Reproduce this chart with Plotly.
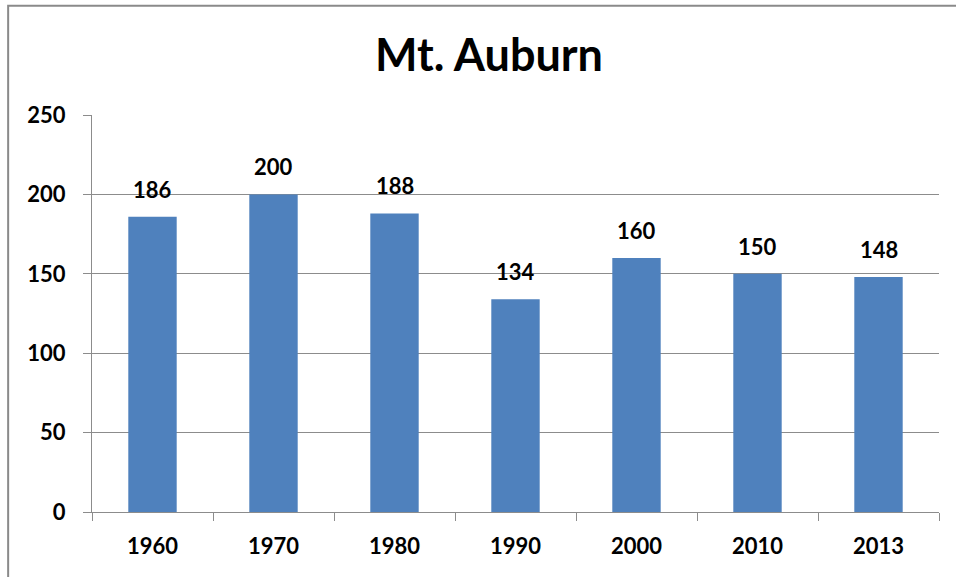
import plotly.graph_objects as go

years = ["1960", "1970", "1980", "1990", "2000", "2010", "2013"]
counts = [186, 200, 188, 134, 160, 150, 148]
y_ticks = [0, 50, 100, 150, 200, 250]

FONT = "Lato, 'Open Sans', sans-serif"
GRID = "#8c8c8c"

fig = go.Figure(
    data=go.Bar(
        x=years,
        y=counts,
        marker_color="#4F81BD",
        marker_line_width=0,
        width=0.4,
    )
)

# etiquetas encima de las barras, al estilo Excel (x = índice de categoría)
for i, value in enumerate(counts):
    fig.add_annotation(
        x=i,
        y=value,
        text=f"<b>{value}</b>",
        showarrow=False,
        yanchor="bottom",
        yshift=12,
        font=dict(family=FONT, size=22, color="black"),
    )

# marco exterior del gráfico
fig.add_shape(
    type="rect",
    xref="paper",
    yref="paper",
    x0=-0.099,
    x1=1.2,
    y0=-0.4,
    y1=1.275,
    line=dict(color="#8a8a8a", width=2),
    fillcolor="rgba(0,0,0,0)",
    layer="above",
)

fig.update_xaxes(
    type="category",
    range=[-0.5, len(years) - 0.5],
    tickson="boundaries",
    ticks="outside",
    ticklen=8,
    tickcolor=GRID,
    showline=True,
    linecolor=GRID,
    linewidth=1,
    showgrid=False,
    tickangle=0,
    tickfont=dict(family=FONT, size=22, color="black", weight="bold"),
    ticklabelstandoff=15,
)

fig.update_yaxes(
    range=[0, 250],
    tickvals=y_ticks,
    ticks="outside",
    ticklen=8,
    tickcolor=GRID,
    showline=True,
    linecolor=GRID,
    linewidth=1,
    showgrid=True,
    gridcolor=GRID,
    gridwidth=1,
    zeroline=False,
    tickfont=dict(family=FONT, size=22, color="black", weight="bold"),
    ticklabelstandoff=13,
)

fig.update_layout(
    title=dict(
        text="<b>Mt. Auburn</b>",
        x=489 / 956,
        xanchor="center",
        y=1 - 55 / 577,
        yanchor="middle",
        font=dict(family=FONT, size=45, color="black"),
    ),
    width=956,
    height=577,
    margin=dict(l=92, r=17, t=115, b=65),
    paper_bgcolor="white",
    plot_bgcolor="white",
    showlegend=False,
)

fig.write_html(
    "out.html",
    config={"displayModeBar": False},
    post_script="document.body.style.margin = '0';",
)
